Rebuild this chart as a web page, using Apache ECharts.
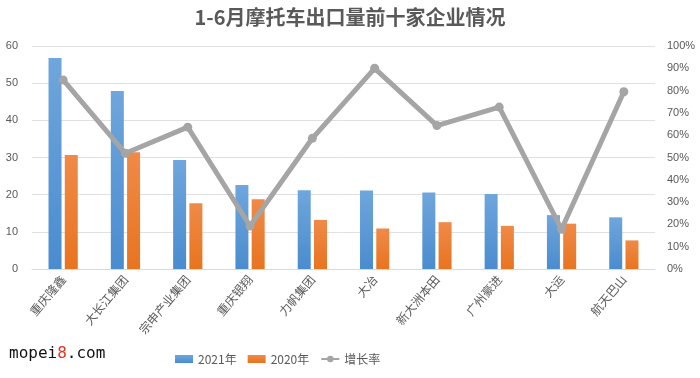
<!DOCTYPE html>
<html>
<head>
<meta charset="utf-8">
<script src="https://cdn.jsdelivr.net/npm/echarts@6/dist/echarts.min.js"></script>
<style>
  html, body { margin: 0; padding: 0; background: #fff; }
  #main { width: 700px; height: 378px; }
</style>
</head>
<body>
<div id="main"></div>
<script>
    // 企业名称
    var companies = ['重庆隆鑫', '大长江集团', '宗申产业集团', '重庆银翔', '力帆集团', '大冶', '新大洲本田', '广州豪进', '大运', '航天巴山'];
    // 出口量（万辆）
    var sales2021 = [56.8, 47.9, 29.3, 22.6, 21.2, 21.1, 20.6, 20.2, 14.5, 13.9];
    var sales2020 = [30.7, 31.4, 17.7, 18.8, 13.2, 10.9, 12.6, 11.6, 12.2, 7.7];
    // 增长率 (%)
    var growth = [84.8, 51.9, 63.6, 19.3, 58.6, 90.0, 64.3, 72.6, 17.8, 79.5];
    var leftTicks = [0, 10, 20, 30, 40, 50, 60];

    var labelColor = '#595959';
    var chart = echarts.init(document.getElementById('main'));

    function barColor (top, bottom) {
        return new echarts.graphic.LinearGradient(0, 0, 0, 1, [
            {offset: 0, color: top},
            {offset: 1, color: bottom}
        ]);
    }

    var option = {
        backgroundColor: '#fff',
        title: {
            text: '1-6月摩托车出口量前十家企业情况',
            left: 'center',
            top: 2,
            textStyle: {
                fontFamily: 'Noto Sans CJK SC',
                fontSize: 20,
                fontWeight: 'bold',
                color: '#595959'
            }
        },
        legend: {
            left: 170,
            top: 348,
            itemWidth: 18,
            itemHeight: 8,
            itemGap: 11,
            textStyle: {fontFamily: 'Noto Sans CJK SC', fontSize: 12, color: labelColor},
            data: [
                {name: '2021年', icon: 'rect'},
                {name: '2020年', icon: 'rect'},
                {name: '增长率'}
            ]
        },
        graphic: [{
            type: 'text',
            left: 9,
            top: 346,
            style: {
                text: '{a|mopei}{b|8}{a|.com}',
                rich: {
                    a: {fontFamily: 'DejaVu Sans Mono', fontSize: 16, fill: '#111'},
                    b: {fontFamily: 'DejaVu Sans Mono', fontSize: 16, fill: '#e8321e'}
                }
            }
        }],
        grid: {
            left: 32,
            right: 45,
            top: 46,
            bottom: 109
        },
        xAxis: {
            type: 'category',
            data: companies,
            axisTick: {show: false},
            axisLine: {lineStyle: {color: '#d9d9d9'}},
            axisLabel: {
                rotate: 50,
                interval: 0,
                margin: 8,
                color: labelColor,
                fontFamily: 'Noto Sans CJK SC',
                fontSize: 12
            }
        },
        yAxis: [{
            type: 'value',
            min: leftTicks[0],
            max: leftTicks[leftTicks.length - 1],
            interval: 10,
            axisLabel: {color: labelColor, fontSize: 11, margin: 14},
            splitLine: {lineStyle: {color: '#e0e0e0'}},
            axisLine: {show: false},
            axisTick: {show: false}
        }, {
            type: 'value',
            min: 0,
            max: 100,
            interval: 10,
            position: 'right',
            axisLabel: {color: labelColor, fontSize: 11, margin: 12, formatter: '{value}%'},
            splitLine: {show: false},
            axisLine: {show: false},
            axisTick: {show: false}
        }],
        series: [{
            name: '2021年',
            type: 'bar',
            data: sales2021,
            barWidth: 13,
            barGap: '25%',
            itemStyle: {color: barColor('#6fa6dc', '#4a8ccf')}
        }, {
            name: '2020年',
            type: 'bar',
            data: sales2020,
            barWidth: 13,
            itemStyle: {color: barColor('#f08a48', '#e8741f')}
        }, {
            name: '增长率',
            type: 'line',
            yAxisIndex: 1,
            data: growth,
            symbol: 'circle',
            symbolSize: 9,
            lineStyle: {color: '#a5a5a5', width: 5},
            itemStyle: {color: '#a5a5a5'}
        }]
    };

    chart.setOption(option);
</script>
</body>
</html>
